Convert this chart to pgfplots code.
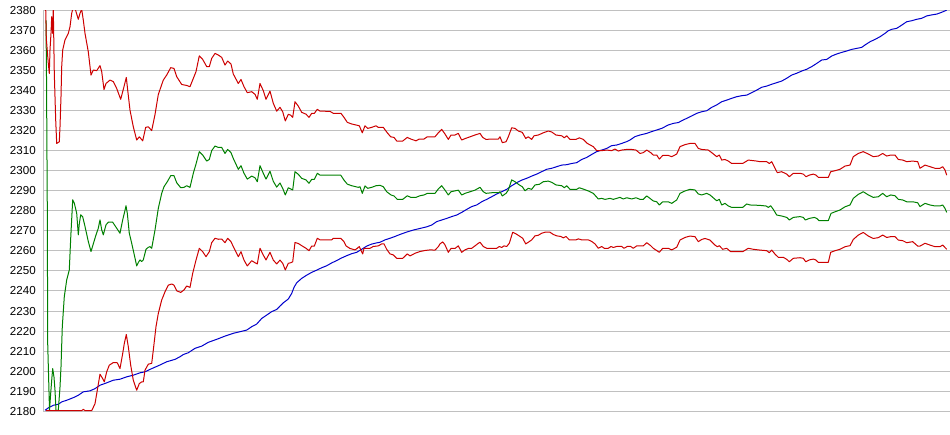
\documentclass[border=0pt]{standalone}
\usepackage{pgfplots}
\pgfplotsset{compat=1.18}
\usepackage{fontspec}
\setmainfont{Liberation Sans}
\definecolor{cred}{RGB}{204,0,0}
\definecolor{cgreen}{RGB}{0,128,0}
\definecolor{cblue}{RGB}{0,0,204}
\definecolor{cgrid}{RGB}{192,192,192}
\begin{document}
\begin{tikzpicture}
\path[use as bounding box] (-43.3pt,-23.7pt) rectangle (906.7pt,411.3pt);
\begin{axis}[
  scale only axis,
  width=906.7pt, height=401pt,
  xmin=43.3, xmax=950,
  ymin=2180, ymax=2380,
  ytick={2180,2190,...,2380},
  xtick={43.8},
  xticklabels={},
  ymajorgrids, xmajorgrids,
  grid style={cgrid, line width=1pt},
  axis line style={draw=none},
  major tick length=0pt,
  /pgf/number format/assume math mode=true,
  /pgf/number format/1000 sep={},
  yticklabel style={font=\fontsize{11.6}{12}\selectfont, text=black, inner sep=0pt, anchor=east, xshift=-7.3pt},
  every axis plot/.append style={line width=1pt, line join=round, no markers},
]
\addplot[cblue] coordinates {
(45,2180.5) (48.3,2181.7) (53.3,2183) (58.3,2183.5) (61.7,2184.7) (66.7,2185.5) (73.3,2186.8) (78.3,2188) (83.3,2189.7) (90,2190.2) (95,2191.3) (100,2193) (106.7,2194.2) (113.3,2195.5) (120,2196) (126.7,2197.2) (133.3,2198) (140,2199.2) (145,2199.7) (150,2200.9) (155,2202) (160,2203.1) (166.7,2204.7) (175,2205.9) (180,2207.2) (183.3,2208.3) (188.3,2209.2) (195,2211.4) (201.7,2212.5) (208.3,2214.4) (216.7,2215.9) (225,2217.5) (233.3,2218.9) (240,2219.7) (246.7,2220.5) (251.7,2222.2) (256.7,2223.5) (261.7,2226.3) (266.7,2228) (271.7,2229.7) (276.7,2230.8) (280,2232.5) (283.3,2234.1) (288.3,2236) (291.7,2238.8) (294,2241.8) (296.7,2244.1) (301.7,2246.3) (306.7,2247.9) (311.7,2249.3) (316.7,2250.4) (321.7,2251.6) (326.7,2252.6) (331.7,2254) (336.7,2255.2) (341.7,2256.5) (346.7,2257.6) (351.7,2258.6) (356.7,2259.3) (361.7,2260.8) (366.7,2262.4) (371.7,2263.4) (376.7,2264) (380,2264.3) (385,2265.5) (390,2266.3) (395,2267.2) (400,2268.2) (406.7,2269.4) (413.3,2270.4) (420,2271.2) (426.7,2272.0) (431.7,2272.9) (436.7,2274.6) (441.7,2275.4) (446.7,2276.2) (451.7,2277.1) (456.7,2277.9) (461.7,2279.2) (466.7,2280.7) (471.7,2282.1) (476.7,2282.9) (481.7,2284.5) (486.7,2285.7) (491.7,2287) (496.7,2288.4) (501.7,2289.5) (506.7,2290.7) (511.7,2292.5) (516.7,2294) (521.7,2295.3) (526.7,2296.2) (531.7,2297.3) (536.7,2298.3) (541.7,2299.5) (546.7,2300.7) (551.7,2301.2) (556.7,2302) (561.7,2302.8) (566.7,2303) (571.7,2303.6) (576.7,2304) (581.7,2305.6) (586.7,2306.6) (591.7,2308.1) (596.7,2309.5) (601.7,2310.3) (606.7,2311.1) (611.7,2312.5) (616.7,2312.8) (621.7,2313.6) (626.7,2314.5) (630,2315.3) (635,2317) (640,2317.8) (646.7,2318.6) (651.7,2319.5) (656.7,2320.3) (661.7,2321.1) (668.3,2322.8) (673.3,2323.6) (678.3,2324) (681.7,2324.9) (686.7,2326.1) (691.7,2327.3) (696.7,2328.6) (701.7,2329.4) (706.7,2329.9) (711.7,2331.6) (716.7,2332.8) (721.7,2334.4) (726.7,2335.2) (731.7,2336.1) (736.7,2336.9) (741.7,2337.4) (746.7,2337.7) (751.7,2338.9) (756.7,2340.2) (761.7,2341.6) (766.7,2342.2) (771.7,2343.1) (776.7,2343.9) (781.7,2344.7) (786.7,2346.1) (791.7,2347.7) (796.7,2348.6) (801.7,2349.7) (806.7,2350.6) (811.7,2351.9) (816.7,2353.5) (821.7,2355.2) (826.7,2355.5) (831.7,2357.2) (836.7,2358.2) (841.7,2359) (846.7,2359.7) (851.7,2360.5) (856.7,2361) (861.7,2361.5) (865,2362.7) (870,2364.3) (875,2365.5) (880,2366.8) (885,2368.5) (888.3,2369.8) (891.7,2370.5) (896.7,2371) (901.7,2372.6) (906.7,2374.3) (911.7,2374.8) (916.7,2375.5) (921.7,2376) (926.7,2377.2) (931.7,2377.7) (936.7,2378.1) (941.7,2379) (946.7,2380.1)
};
\addplot[cgreen] coordinates {
(46,2375) (46.5,2347) (47.3,2280.5) (47.7,2214) (49.5,2180.5) (50.7,2189) (51.7,2195.5) (52.7,2201.3) (54,2197) (55,2190.5) (56,2180.5) (58.3,2180.5) (60,2192) (61,2202.2) (62.3,2222.2) (64.3,2237.2) (66.7,2245.5) (69.3,2250.5) (70.7,2266.3) (72.7,2285.5) (74.3,2283.8) (76.7,2278.8) (78.3,2268) (79.3,2273.5) (80.7,2278) (82.7,2277) (85,2272.2) (88.3,2264.7) (91,2259.7) (93.3,2263.5) (95.7,2267.5) (98.3,2271.3) (100,2275.5) (101.7,2270.5) (103.3,2268) (106,2273) (108.3,2274.3) (112.7,2274.3) (116.7,2271.3) (120,2268.8) (122.7,2275.5) (125,2280.2) (126,2282.5) (127.3,2278.8) (129.3,2268.8) (131.7,2263.8) (134.3,2258) (136.7,2252.5) (138.3,2254.2) (140,2255.5) (141.7,2254.7) (143.3,2255.5) (146,2260.8) (148.3,2261.8) (150,2262.1) (151.7,2261.3) (155,2270.4) (158.3,2281.2) (161.7,2288.7) (164,2292) (167.3,2294.5) (170.7,2297.5) (174,2297.5) (176.7,2294) (180.7,2291.5) (184,2291.7) (186.7,2292.5) (190,2291.7) (193.3,2298.7) (196,2303.3) (199.3,2309.5) (202.7,2307.8) (206.7,2304.8) (209.3,2305.6) (211.7,2310) (215,2312.3) (218.3,2311.6) (221.7,2311.6) (225,2308.6) (227.7,2310.6) (231,2309) (233.3,2306.1) (238.3,2300.7) (241,2302.5) (244,2298.7) (247.3,2295.8) (251.7,2297.3) (255,2296.5) (257.3,2294.5) (260,2302.5) (263.3,2298.7) (266,2295.8) (270,2299.7) (273.3,2294.7) (276.7,2291.8) (280,2293.9) (282.7,2291.2) (285.3,2287.9) (288.3,2291.5) (290.7,2290.9) (292.7,2290.4) (295,2299.5) (298.3,2298.2) (301.7,2296.2) (306,2295.4) (309,2293.7) (311.7,2295.7) (314.3,2295.7) (317.3,2298.7) (320,2297.8) (340.7,2297.8) (344,2295.3) (347.3,2293.3) (351.7,2292.5) (358.3,2291.7) (360,2292.0) (362.3,2288.7) (365,2292.4) (367.7,2291.2) (371.7,2291.7) (376,2292.5) (380,2292.7) (383.3,2292.0) (386.7,2289.5) (391,2287.9) (394,2287.4) (397.3,2285.7) (402.7,2285.7) (407.3,2287.5) (410.7,2286.7) (416,2286.7) (420,2287.5) (424,2287.9) (427.3,2288.7) (435,2288.7) (438.3,2290.9) (441.7,2292.5) (445,2290.3) (448.3,2287.9) (451,2289.5) (458.3,2290.3) (461.7,2287.9) (465,2288.7) (470,2289.5) (475,2290.3) (480,2291.7) (483.3,2289.5) (486,2288.7) (491.7,2289) (498.3,2289) (500,2289.5) (502.3,2287.4) (506,2288.7) (508.3,2290.3) (511.7,2295.4) (515,2294.5) (519.3,2292.9) (522.3,2292.0) (525,2290.0) (528.3,2291.2) (531.7,2290.7) (535,2292.9) (539.3,2293.2) (543.3,2294.5) (548.3,2294.8) (551.7,2294.2) (556,2292.9) (561.7,2292.5) (564.3,2291.5) (566.7,2292.5) (570,2290.7) (576.7,2290.7) (579.3,2291.5) (584,2290.7) (588.3,2289.9) (593.3,2288.7) (598.3,2285.9) (601.7,2286.2) (605,2285.7) (610,2286.2) (613.3,2285.7) (616.7,2286.2) (620,2286.7) (623.3,2285.9) (626.7,2286.5) (631.7,2285.9) (636,2286.5) (640,2285.7) (643.3,2285.7) (646.7,2287.4) (650.7,2285.9) (653.3,2284.9) (656.7,2284.5) (659.3,2282.9) (662.7,2284.5) (668.3,2284.5) (671.7,2283.7) (676.7,2285.4) (680,2288.7) (685,2289.9) (690,2290.7) (695,2290.4) (698.3,2288.4) (701.7,2287.9) (706.7,2288.7) (710,2287.9) (716.7,2285.0) (719.3,2285.7) (721.7,2282.9) (725,2283.7) (728.3,2282.4) (731.7,2281.7) (742.7,2281.7) (746.7,2283.4) (750,2282.9) (760,2282.7) (766,2282.4) (768.3,2281.7) (770.7,2282.5) (773.3,2280.7) (776.7,2277.9) (781.7,2277.4) (786.7,2276.7) (789.3,2275.4) (793.3,2276.7) (800,2277.1) (803.3,2276.7) (805.3,2275.4) (809.3,2276.2) (814.3,2276.7) (816.7,2276.2) (819,2275.1) (828.3,2275.1) (831,2278.7) (835,2279.5) (840,2280.4) (845,2282.0) (850,2282.9) (853.3,2286.2) (858.3,2288.2) (863.3,2289.5) (868.3,2287.9) (873.3,2286.7) (878.3,2287.0) (882.7,2288.7) (886.7,2287.0) (890.7,2287.9) (895,2287.5) (898.3,2285.7) (902.7,2285.4) (906.7,2284.5) (912.7,2284.5) (917.7,2284.0) (920,2282.1) (925,2283.7) (930,2282.9) (935,2282.4) (940,2282.4) (942.7,2282.9) (945,2281.2) (946.7,2279.2)
};
\addplot[cred] coordinates {
(45.7,2381) (46.3,2366) (48.3,2353.5) (49.3,2348.5) (50,2360.2) (51,2368.5) (51.7,2376.8) (52.7,2368.5) (53.3,2381) (54.3,2348.5) (55.7,2325.3) (56.7,2313.6) (59.3,2314.4) (60,2321.9) (61,2336.9) (61.7,2351.9) (62.7,2360.2) (65,2365.2) (68.3,2368.5) (70,2371.8) (71.7,2378.5) (72.7,2380.5) (75.3,2380.5) (78.3,2375.5) (80,2378.5) (81.7,2380.5) (83.3,2375.1) (85,2368.5) (88.3,2359.3) (91,2347.7) (93.3,2350.2) (96.7,2349.9) (100,2352.4) (101.7,2349.4) (104,2340.5) (106,2343.5) (110,2345.2) (113.3,2344.4) (116.7,2341.0) (120.7,2335.6) (124,2341.9) (126.3,2346.5) (127.7,2340.2) (130,2330.2) (133.3,2321.9) (136.7,2315.3) (139.3,2316.9) (142.7,2314.9) (145.7,2321.6) (148.3,2321.9) (151.7,2320.0) (155,2328) (158.3,2338) (163.3,2345.2) (166.7,2347.7) (170.7,2351.4) (174,2351.0) (176.7,2346.9) (181.7,2343.0) (186.7,2342.5) (190,2341.9) (193.3,2346.0) (196,2349.4) (199.3,2357.3) (202.7,2355.5) (206.7,2351.9) (209.3,2351.9) (211.7,2356.0) (215,2358.5) (218.3,2357.7) (221.7,2356.5) (225,2352.7) (227.7,2354.7) (231,2353.2) (233.3,2348.2) (238.3,2343.5) (241,2345.5) (244,2341.9) (247.3,2338.9) (251.7,2339.4) (255,2338.1) (257.3,2335.6) (260,2343.5) (263.3,2339.9) (266,2335.6) (270,2339.7) (273.3,2333.6) (276.7,2329.7) (280,2331.6) (282.7,2329.4) (285.3,2324.8) (288.3,2328.1) (290.7,2327.7) (292.7,2326.6) (295,2334.4) (298.3,2332.2) (301.7,2329.1) (306,2328.2) (309,2326.6) (311.7,2328.6) (314.3,2328.6) (317.3,2330.6) (320,2329.7) (330,2329.6) (333.3,2328.6) (341,2328.6) (344,2326.6) (347.3,2324.1) (351.7,2323.3) (359.3,2322.4) (362.3,2318.9) (365,2322.4) (367.7,2321.1) (371.7,2321.6) (376,2322.4) (378.3,2321.6) (383.3,2321.6) (387.3,2318.9) (390.7,2316.9) (394,2316.6) (396.7,2314.8) (402.7,2314.8) (407.3,2316.6) (410.7,2315.8) (416,2314.9) (419.3,2315.8) (424,2315.8) (427.3,2316.9) (435,2316.9) (438.3,2318.9) (441.7,2320.6) (445,2318.3) (448.3,2315.6) (451,2317.8) (455,2317.8) (458.3,2318.6) (461.7,2315.3) (465,2316.0) (470,2316.9) (475,2317.8) (480,2318.6) (482.7,2316.6) (486,2315.6) (491.7,2315.8) (498.3,2315.8) (500,2316.9) (502.3,2314.0) (506,2314.4) (508.3,2316.9) (511.7,2321.4) (515,2321.1) (518.3,2319.8) (522.3,2319.1) (525.7,2316.1) (528.3,2316.9) (531.7,2315.6) (534,2317.4) (538.3,2317.8) (543.3,2318.9) (548.3,2319.8) (551.7,2319.3) (556,2317.8) (561.7,2317.4) (564.3,2316.4) (566.7,2317.4) (570,2315.6) (576,2315.6) (579.3,2316.4) (583.3,2315.6) (587.3,2313.6) (593.3,2312.0) (596.7,2310.0) (601.7,2310.0) (606.7,2310.3) (611.7,2310.0) (615,2310.8) (618.3,2309.8) (621.7,2310.3) (626.7,2310.6) (631.7,2310.6) (636,2310.3) (640,2308.6) (643.3,2309.0) (646.7,2310.3) (650.7,2309.0) (653.3,2307.8) (656.7,2307.8) (659.3,2305.8) (662.7,2307.6) (668.3,2307.6) (671.7,2307.0) (676.7,2308.3) (680,2312.0) (685,2313.0) (690,2313.6) (695,2313.6) (698.3,2311.1) (701.7,2310.6) (708.3,2310.3) (711.7,2309.0) (716.7,2307.0) (719.3,2307.8) (721.7,2305.3) (725,2305.6) (728.3,2304.8) (731.7,2303.6) (742.7,2303.6) (748.3,2305.3) (756.7,2304.8) (760,2304.5) (766.7,2304.5) (769.3,2303.6) (771.7,2304.5) (775,2301.2) (777.3,2299.0) (781.7,2299.5) (786.7,2298.3) (789.3,2297.0) (793.3,2298.7) (800,2298.7) (803.3,2298.3) (806,2297.0) (809.3,2297.8) (813.3,2298.3) (816,2297.8) (818.3,2296.7) (828.3,2296.7) (830.7,2299.5) (835,2300.0) (840,2300.7) (845,2302.3) (850,2302.8) (853.3,2307.0) (858.3,2308.6) (863.3,2309.5) (868.3,2308.3) (873.3,2307.0) (878.3,2307.3) (882.7,2308.6) (886.7,2307.3) (890.7,2307.8) (895,2307.8) (898.3,2305.6) (902.7,2305.3) (906.7,2304.5) (912.7,2304.8) (917.7,2304.5) (920,2301.2) (925,2302.8) (930,2302.0) (935,2301.2) (940,2301.2) (942.7,2302.0) (945,2300.3) (946.7,2297.8)
};
\addplot[cred] coordinates {
(46,2180.3) (81.7,2180.3) (83.3,2181) (85,2180.3) (91.7,2180.3) (95,2183.8) (97.3,2190.5) (100,2198.5) (102.7,2196.3) (104.3,2194.7) (106.7,2199.7) (109.3,2203) (113.3,2204.3) (117.3,2204.2) (120,2201.3) (122.7,2208.8) (124.3,2213.8) (126.3,2218.3) (128.3,2212.2) (130.7,2203) (133.3,2195.5) (136.7,2190.5) (139.3,2193.8) (141.7,2194.7) (143.3,2194.7) (145,2200.5) (148.3,2203.5) (151.7,2203.9) (153.3,2210.5) (156,2222.2) (158.3,2228.8) (161.7,2235.5) (165,2239.6) (168.3,2242.9) (171.7,2243.5) (174,2242.9) (176.7,2240.1) (180.7,2239.3) (184,2240.5) (186.7,2242.5) (190,2241.8) (192.7,2248.8) (196,2255.4) (199.3,2261.3) (202.7,2259.6) (206,2257.1) (209.3,2259.6) (211.7,2264.1) (215,2266.3) (218.3,2265.8) (221.7,2265.9) (225,2264.1) (227.7,2266.3) (231,2264.6) (233.3,2262.1) (238.3,2257.1) (241,2259.6) (244,2255.4) (247.3,2252.5) (251.7,2255.1) (255,2254.1) (257.3,2253.5) (260,2261.3) (263.3,2257.9) (266,2255.5) (270,2259.3) (273.3,2255.4) (276.7,2253.5) (280,2255.4) (282.7,2253.8) (285.3,2250.5) (288.3,2253.8) (290.7,2254.1) (292.7,2254.6) (295,2264.2) (298.3,2263.7) (301.7,2262.6) (306,2261.3) (309,2260.1) (311.7,2262.4) (314.3,2262.4) (317.3,2266.3) (320,2265.5) (331.7,2265.5) (333.3,2266.3) (340.7,2266.3) (344,2264.6) (346,2262.5) (350,2261.2) (355,2260.5) (357.3,2261.3) (359.3,2262.2) (360.7,2260.5) (362.7,2258.5) (364,2261.3) (370,2261.3) (373.3,2262.2) (378.3,2262.5) (381.7,2263.5) (384,2263.5) (386.7,2260.8) (390,2258.5) (393.3,2258.0) (396.7,2256.3) (402.7,2256.3) (407.3,2258.5) (410,2257.5) (415,2258.8) (420,2259.7) (425,2260.2) (430,2260.5) (435,2260.4) (438.3,2262.1) (440,2263.5) (442.7,2264.5) (445,2263.0) (448.3,2259.3) (451,2261.2) (455,2261.2) (458.3,2262.5) (461.7,2259.3) (465,2260.5) (468.3,2261.2) (471.7,2261.3) (475,2262.5) (478.3,2263.8) (480,2264.3) (483.3,2262.2) (486.7,2261.3) (496.7,2261.3) (499.3,2262.2) (501.7,2261.7) (504,2262.5) (506.7,2262.2) (509.3,2263.8) (512.7,2269.3) (516,2268.5) (520,2267.2) (522.7,2266.3) (525.7,2263.5) (528.3,2264.3) (531.7,2265.5) (535,2267.5) (538.3,2267.8) (541.7,2268.8) (545,2269.3) (550,2269.3) (553.3,2268.2) (556.7,2267.5) (560.7,2267.2) (563.3,2266.5) (566,2267.2) (569.3,2265.5) (576,2265.5) (578.3,2266.0) (581.7,2265.5) (588.3,2265.5) (591.7,2264.7) (595,2263.5) (598.3,2261.3) (601.7,2262.2) (604.3,2261.3) (608.3,2261.3) (611,2262.2) (613.3,2261.7) (616.7,2262.2) (621.7,2262.2) (624,2261.3) (627.3,2262.2) (630.7,2262.2) (633.3,2261.3) (636.7,2262.5) (640,2262.5) (643.3,2262.5) (646.7,2264.1) (650.7,2262.6) (653.3,2261.3) (659.3,2259.3) (662.7,2261.3) (668.3,2261.3) (671.7,2260.5) (676.7,2261.8) (680,2265.4) (685,2266.7) (690,2267.4) (695,2267.1) (698.3,2264.6) (701.7,2265.7) (705,2266.2) (710,2265.4) (715,2262.9) (717.3,2262.1) (719.3,2262.6) (722.7,2260.8) (726.7,2261.3) (730.7,2259.6) (742.7,2259.6) (748.3,2261.3) (753.3,2260.8) (760,2260.4) (766.7,2260.1) (769.3,2259.1) (771.7,2260.4) (775,2258.4) (778.3,2256.8) (783.3,2256.8) (786.7,2255.8) (789.3,2254.6) (793.3,2256.3) (800,2256.6) (803.3,2256.3) (805.7,2254.6) (809.3,2255.5) (813.3,2255.9) (815.7,2255.5) (818.3,2254.3) (828.3,2254.3) (830.7,2259.3) (835,2260.1) (840,2260.8) (845,2262.1) (850,2262.6) (853.3,2265.7) (858.3,2267.9) (863.3,2269.2) (868.3,2267.4) (873.3,2266.2) (878.3,2266.6) (882.7,2267.9) (886.7,2266.7) (890.7,2267.1) (895,2267.1) (898.3,2265.4) (902.7,2265.1) (906.7,2264.1) (912.7,2264.6) (917.7,2262.4) (920,2262.4) (925,2263.8) (930,2262.9) (935,2262.1) (940,2262.1) (942.7,2262.9) (945,2261.7) (946.7,2260.8)
};
\end{axis}
\end{tikzpicture}
\end{document}
